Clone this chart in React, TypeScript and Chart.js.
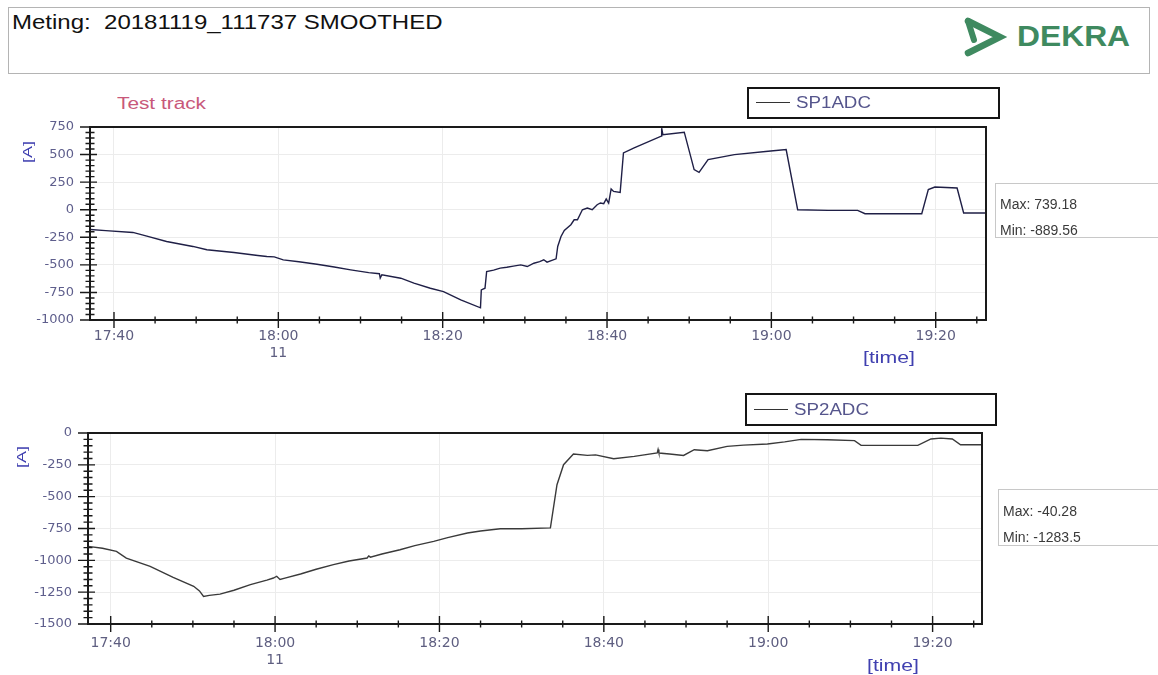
import React, { useEffect, useRef } from 'react';
import { Chart, registerables } from 'chart.js';

Chart.register(...registerables);

// minutes after 17:00
const SP1_TIME = [
  37.1, 39, 42.3, 44, 46.4, 49.6, 51.3, 54.6, 57.5, 58.6, 59.5, 60.6, 62.5, 64.7, 66.8, 68.8, 71, 72.3, 72.4, 72.6,
  74.9, 76.5, 78.5, 80.1, 82.2, 84.6, 84.7, 85.15, 85.35, 86.2, 87, 87.8, 88.6, 89.5, 90.3, 91.1, 91.8, 92.3, 92.7, 93.8,
  94.0, 94.4, 94.8, 95.6, 96.0, 96.4, 97.0, 97.6, 98.2, 98.8, 99.2, 99.6, 99.9, 100.2, 100.5, 100.8, 101.6, 102, 103.3, 106.6,
  106.65, 106.8, 109.4, 110.6, 111.2, 112.3, 115.5, 119.6, 121.8, 123.2, 126.9, 130.5, 131.4, 138.3, 139.1, 139.9, 142.6, 143.4, 146.12,
];
const SP1_VALUES = [
  -180, -190, -206, -240, -288, -333, -363, -388, -415, -424, -428, -455, -472, -494, -520, -545, -570, -580, -620, -590,
  -621, -665, -712, -743, -818, -889.56, -727, -712, -561, -548, -530, -522, -512, -500, -515, -485, -470, -454, -475, -445,
  -333, -243, -188, -136, -91, -91, 0, 15, 0, 45, 61, 55, 97, 60, 188, 166, 157, 515, 561, 667,
  739.18, 680, 703, 364, 339, 455, 500, 530, 545, 0, -6, -6, -36, -36, 182, 206, 197, -30, -30,
];

const SP2_TIME = [
  37.24, 39, 40.7, 41.9, 44.8, 47.6, 50.1, 50.8, 51.3, 52, 53.3, 55, 57, 59, 59.8, 60.2, 60.6, 61.2, 63.1, 65,
  67.1, 69, 71.2, 71.4, 71.6, 73, 75.2, 77, 79.3, 81, 83.4, 85, 87.4, 90, 93.5, 94.3, 95.1, 96.3, 98, 99,
  101.2, 103.7, 106.5, 106.6, 106.7, 108, 109.7, 111, 112.6, 115, 117, 119.9, 122, 124, 127.2, 130.5, 131.3, 138.2, 139.8, 141,
  142.4, 143.4, 146.01,
];
const SP2_VALUES = [
  -890, -905, -930, -982, -1047, -1134, -1204, -1240, -1283.5, -1275, -1265, -1235, -1191, -1155, -1139, -1125, -1150, -1140, -1107, -1070,
  -1034, -1005, -982, -965, -975, -950, -917, -885, -851, -822, -785, -770, -752, -752, -745, -406, -249, -165, -176, -172,
  -202, -184, -157, -130, -157, -165, -176, -131, -139, -105, -95, -86, -70, -50, -53, -60, -97, -97, -47, -40.28,
  -47, -92, -92,
];

const X_LABEL_MINUTES = [40, 60, 80, 100, 120, 140];
const X_LABELS = [['17:40'], ['18:00', '11'], ['18:20'], ['18:40'], ['19:00'], ['19:20']];

const axisPlugin = {
  id: 'axisFrame',
  afterDatasetsDraw(chart: any) {
    const { ctx, chartArea: a, scales } = chart;
    const xs = scales.x;
    const ys = scales.y;
    const yMajor = chart.options.plugins.axisFrame.yMajor;
    ctx.save();
    ctx.strokeStyle = '#1a1a1a';
    ctx.lineWidth = 2;
    ctx.strokeRect(a.left, a.top, a.right - a.left, a.bottom - a.top);
    ctx.lineWidth = 1.4;
    ctx.beginPath();
    xs.ticks.forEach((t: any) => {
      const v = t.value;
      if (Math.abs(v / 5 - Math.round(v / 5)) > 1e-6) return;
      const px = xs.getPixelForValue(v);
      const major = Math.abs(v / 20 - Math.round(v / 20)) < 1e-6;
      const h = major ? 8 : 3.5;
      ctx.moveTo(px, a.bottom - h);
      ctx.lineTo(px, a.bottom + h);
    });
    ys.ticks.forEach((t: any) => {
      const py = ys.getPixelForValue(t.value);
      const major = Math.abs(t.value / yMajor - Math.round(t.value / yMajor)) < 1e-6;
      ctx.moveTo(a.left - (major ? 10 : 4.5), py);
      ctx.lineTo(a.left + (major ? 7 : 4.5), py);
    });
    ctx.stroke();
    ctx.restore();
  },
};

type TraceProps = {
  left: number; top: number; width: number; height: number;
  area: { left: number; top: number; right: number; bottom: number };
  xMin: number; xMax: number; yMin: number; yMax: number;
  time: number[]; values: number[]; label: string; color: string; xPad: number;
};

function TraceChart(p: TraceProps) {
  const ref = useRef<HTMLCanvasElement>(null);
  useEffect(() => {
    const isMult = (v: number, m: number) => Math.abs(v / m - Math.round(v / m)) < 1e-6;
    const chart = new Chart(ref.current as HTMLCanvasElement, {
      type: 'line',
      data: {
        datasets: [
          {
            label: p.label,
            data: p.time.map((t, i) => ({ x: t, y: p.values[i] })),
            borderColor: p.color,
            borderWidth: 1.4,
            pointRadius: 0,
            tension: 0,
            fill: false,
          },
        ],
      },
      options: {
        animation: false,
        responsive: false,
        maintainAspectRatio: false,
        layout: { padding: { left: 0, top: p.area.top, right: p.width - p.area.right, bottom: 0 } },
        plugins: {
          legend: { display: false },
          tooltip: { enabled: false },
          axisFrame: { yMajor: 250 },
        } as any,
        scales: {
          x: {
            type: 'linear',
            min: p.xMin,
            max: p.xMax,
            afterFit: (s: any) => { s.height = p.height - p.area.bottom; },
            border: { display: false },
            grid: {
              drawTicks: false,
              color: (c: any) => (c.tick && isMult(c.tick.value, 20) ? '#ececec' : 'rgba(0,0,0,0)'),
            },
            ticks: {
              stepSize: 5,
              includeBounds: false,
              autoSkip: false,
              maxRotation: 0,
              minRotation: 0,
              padding: p.xPad,
              color: '#5e5e80',
              font: { family: 'DejaVu Sans', size: 14 },
              callback: (v: any) => {
                const i = X_LABEL_MINUTES.findIndex((m) => Math.abs(m - Number(v)) < 1e-6);
                return i >= 0 ? X_LABELS[i] : '';
              },
            },
          },
          y: {
            type: 'linear',
            min: p.yMin,
            max: p.yMax,
            afterFit: (s: any) => { s.width = p.area.left; },
            border: { display: false },
            grid: {
              drawTicks: false,
              color: (c: any) => (c.tick && isMult(c.tick.value, 250) ? '#ececec' : 'rgba(0,0,0,0)'),
            },
            ticks: {
              stepSize: 50,
              autoSkip: false,
              maxTicksLimit: 1000,
              padding: 16,
              color: '#5e5e8c',
              font: { family: 'DejaVu Sans', size: 13 },
              callback: (v: any) => (isMult(Number(v), 250) ? String(v) : ''),
            },
          },
        },
      } as any,
      plugins: [axisPlugin],
    });
    return () => chart.destroy();
  }, []);
  return (
    <canvas
      ref={ref}
      width={p.width}
      height={p.height}
      style={{ position: 'absolute', left: p.left, top: p.top, width: p.width, height: p.height }}
    />
  );
}

const abs = (left: number, top: number, extra: React.CSSProperties = {}): React.CSSProperties => ({
  position: 'absolute',
  left,
  top,
  whiteSpace: 'nowrap',
  lineHeight: 1,
  transformOrigin: 'left top',
  ...extra,
});

function Legend({ left, top, width, height, text }: { left: number; top: number; width: number; height: number; text: string }) {
  return (
    <div style={abs(left, top, { width, height, border: '2px solid #151515', boxSizing: 'border-box' })}>
      <div style={abs(7, height / 2 - 3, { width: 34, height: 0, borderTop: '1px solid #333' })} />
      <div style={abs(47, height / 2 - 10, { fontSize: 16, color: '#55558c', transform: 'scaleX(1.17)' })}>{text}</div>
    </div>
  );
}

function MinMax({ left, top, height, max, min }: { left: number; top: number; height: number; max: string; min: string }) {
  return (
    <div style={abs(left, top, { width: 1158 - left + 2, height, border: '1px solid #c8c8c8', boxSizing: 'border-box' })}>
      <div style={abs(4, height * 0.37 - 7, { fontSize: 14, color: '#3a3a3a' })}>Max: {max}</div>
      <div style={abs(4, height * 0.83 - 7, { fontSize: 14, color: '#3a3a3a' })}>Min: {min}</div>
    </div>
  );
}

export default function App() {
  return (
    <div
      style={{
        position: 'absolute',
        left: 0,
        top: 0,
        width: 1158,
        height: 675,
        background: '#ffffff',
        overflow: 'hidden',
        fontFamily: '"Liberation Sans", Arial, sans-serif',
      }}
    >
      <div style={abs(8, 7, { width: 1142, height: 67, border: '1px solid #b4b4b4', boxSizing: 'border-box' })} />
      <div style={abs(12, 12, { fontSize: 20, color: '#111', transform: 'scaleX(1.2)' })}>
        Meting:&nbsp; 20181119_111737 SMOOTHED
      </div>
      <svg style={{ position: 'absolute', left: 962, top: 16 }} width={46} height={42} viewBox="0 0 46 42">
        <path d="M6 5 L38 21 L6 37" fill="none" stroke="#3f8a60" strokeWidth={6.5} strokeLinejoin="miter" strokeLinecap="round" />
        <path d="M6 5 L12 24" fill="none" stroke="#3f8a60" strokeWidth={6} strokeLinecap="round" />
      </svg>
      <div style={abs(1017, 21, { fontSize: 30, fontWeight: 700, color: '#3f8a60', transform: 'scaleX(1.06)' })}>DEKRA</div>

      <div style={abs(117, 96, { fontSize: 16, color: '#c8587a', transform: 'scaleX(1.3)' })}>Test track</div>

      <TraceChart
        left={0}
        top={80}
        width={1000}
        height={300}
        area={{ left: 90, top: 47, right: 986, bottom: 240 }}
        xMin={37.08}
        xMax={146.12}
        yMin={-1000}
        yMax={750}
        time={SP1_TIME}
        values={SP1_VALUES}
        label="SP1ADC"
        color="#1f1f46"
        xPad={8}
      />
      <Legend left={747} top={87} width={253} height={32} text="SP1ADC" />
      <MinMax left={995} top={183} height={55} max="739.18" min="-889.56" />
      <div style={abs(22, 163, { fontSize: 12, color: '#4040b0', transform: 'rotate(-90deg) scaleX(1.5)' })}>[A]</div>
      <div style={abs(863, 349, { fontSize: 17, color: '#4040b0', transform: 'scaleX(1.25)' })}>[time]</div>

      <TraceChart
        left={0}
        top={390}
        width={1000}
        height={285}
        area={{ left: 88, top: 43, right: 982, bottom: 234 }}
        xMin={37.24}
        xMax={146.01}
        yMin={-1500}
        yMax={0}
        time={SP2_TIME}
        values={SP2_VALUES}
        label="SP2ADC"
        color="#3a3a3a"
        xPad={11}
      />
      <Legend left={745} top={393} width={252} height={33} text="SP2ADC" />
      <MinMax left={998} top={489} height={57} max="-40.28" min="-1283.5" />
      <div style={abs(16, 468, { fontSize: 12, color: '#4040b0', transform: 'rotate(-90deg) scaleX(1.5)' })}>[A]</div>
      <div style={abs(867, 657, { fontSize: 17, color: '#4040b0', transform: 'scaleX(1.25)' })}>[time]</div>
    </div>
  );
}
